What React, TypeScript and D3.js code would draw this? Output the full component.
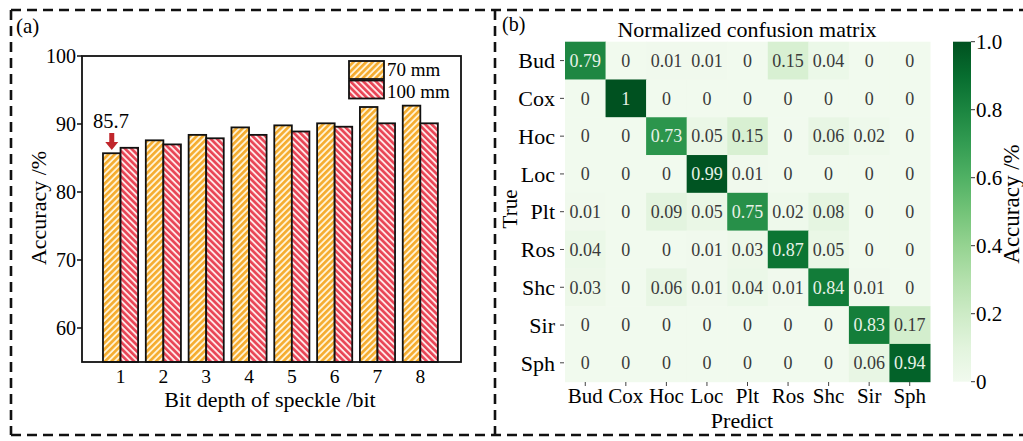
import React from "react";
import * as d3 from "d3";

// ---- data ----
const bitDepths = [1, 2, 3, 4, 5, 6, 7, 8];
const acc70 = [85.7, 87.6, 88.4, 89.5, 89.8, 90.1, 92.5, 92.7];
const acc100 = [86.5, 87.0, 87.9, 88.4, 88.9, 89.6, 90.1, 90.1];
const accTicks = [60, 70, 80, 90, 100];
const seriesNames = ["70 mm", "100 mm"];

const classes = ["Bud", "Cox", "Hoc", "Loc", "Plt", "Ros", "Shc", "Sir", "Sph"];
const confusion = [
  [0.79, 0, 0.01, 0.01, 0, 0.15, 0.04, 0, 0],
  [0, 1, 0, 0, 0, 0, 0, 0, 0],
  [0, 0, 0.73, 0.05, 0.15, 0, 0.06, 0.02, 0],
  [0, 0, 0, 0.99, 0.01, 0, 0, 0, 0],
  [0.01, 0, 0.09, 0.05, 0.75, 0.02, 0.08, 0, 0],
  [0.04, 0, 0, 0.01, 0.03, 0.87, 0.05, 0, 0],
  [0.03, 0, 0.06, 0.01, 0.04, 0.01, 0.84, 0.01, 0],
  [0, 0, 0, 0, 0, 0, 0, 0.83, 0.17],
  [0, 0, 0, 0, 0, 0, 0, 0.06, 0.94],
];
const cbarTicks = [0, 0.2, 0.4, 0.6, 0.8, 1.0];

const FONT = "'Liberation Serif', 'Times New Roman', serif";

export default function App() {
  // left panel scales
  const x = d3.scaleLinear().domain([0.1, 8.95]).range([82, 461]);
  const y = d3.scaleLinear().domain([55, 100]).range([362, 56]);
  const bw = x(0.41) - x(0);

  // right panel scales
  const cx = d3.scaleBand<string>().domain(classes).range([565, 930]);
  const cy = d3.scaleBand<string>().domain(classes).range([41.7, 381.7]);
  const color = d3.scaleSequential(d3.interpolateGreens).domain([0, 1]);
  const cb = d3.scaleLinear().domain([0, 1]).range([381.7, 41.7]);
  const cbStops = d3.range(0, 1.0001, 0.1);

  return (
    <div style={{ position: "absolute", left: 0, top: 0 }}>
      <svg width={1023} height={441} style={{ fontFamily: FONT, display: "block" }}>
        <defs>
          <pattern id="hatchO" width={4.5} height={4.5} patternUnits="userSpaceOnUse" patternTransform="rotate(45)">
            <rect width={4.5} height={4.5} fill="#fff3d6" />
            <rect width={2.6} height={4.5} fill="#f5ac2e" />
          </pattern>
          <pattern id="hatchR" width={4.5} height={4.5} patternUnits="userSpaceOnUse" patternTransform="rotate(-45)">
            <rect width={4.5} height={4.5} fill="#ffe6e6" />
            <rect width={2.6} height={4.5} fill="#e84455" />
          </pattern>
          <linearGradient id="cbar" x1="0" y1="1" x2="0" y2="0">
            {cbStops.map((t) => (
              <stop key={t} offset={`${t * 100}%`} stopColor={color(t * 0.92 + 0.04)} />
            ))}
          </linearGradient>
        </defs>

        {/* dashed frames */}
        <g stroke="#111" strokeWidth={2.6} strokeDasharray="10,6" fill="none">
          <line x1={11} y1={10} x2={1023} y2={10} />
          <line x1={11} y1={435} x2={1023} y2={435} />
          <line x1={11} y1={10} x2={11} y2={435} />
          <line x1={495} y1={10} x2={495} y2={435} />
        </g>

        {/* ---------- (a) bar chart ---------- */}
        <text x={16} y={33} fontSize={21}>(a)</text>
        {bitDepths.map((b, i) => (
          <g key={b} stroke="#111" strokeWidth={1.8}>
            <rect x={x(b) - bw} y={y(acc70[i])} width={bw} height={y(55) - y(acc70[i])} fill="url(#hatchO)" />
            <rect x={x(b)} y={y(acc100[i])} width={bw} height={y(55) - y(acc100[i])} fill="url(#hatchR)" />
          </g>
        ))}
        <rect x={82} y={56} width={379} height={306} fill="none" stroke="#111" strokeWidth={1.8} />
        {accTicks.map((t) => (
          <g key={t}>
            <line x1={77} x2={82} y1={y(t)} y2={y(t)} stroke="#111" strokeWidth={1.5} />
            <text x={76} y={y(t)} dy="0.35em" textAnchor="end" fontSize={20}>{t}</text>
          </g>
        ))}
        {bitDepths.map((b) => (
          <text key={b} x={x(b)} y={383} textAnchor="middle" fontSize={19.5}>{b}</text>
        ))}
        <text x={270} y={407} textAnchor="middle" fontSize={22}>Bit depth of speckle /bit</text>
        <text transform="translate(46,208) rotate(-90)" textAnchor="middle" fontSize={22}>Accuracy /%</text>

        {/* legend */}
        <g stroke="#111" strokeWidth={1.8}>
          <rect x={349} y={61} width={35} height={18} fill="url(#hatchO)" />
          <rect x={349} y={80.5} width={35} height={18} fill="url(#hatchR)" />
        </g>
        <text x={387} y={76} fontSize={19}>{seriesNames[0]}</text>
        <text x={387} y={97.5} fontSize={19}>{seriesNames[1]}</text>

        {/* annotation */}
        <text x={111} y={128} textAnchor="middle" fontSize={20.5}>{acc70[0]}</text>
        <path
          d={`M${x(1) - bw / 2 - 2.5},133 h5 v9 h4 l-6.5,8 l-6.5,-8 h4 z`}
          fill="#c0262c"
        />

        {/* ---------- (b) confusion matrix ---------- */}
        <text x={502} y={31} fontSize={20}>(b)</text>
        <text x={747} y={37} textAnchor="middle" fontSize={22}>Normalized confusion matrix</text>
        {confusion.map((row, r) =>
          row.map((v, c) => (
            <g key={`${r}-${c}`}>
              <rect x={cx(classes[c])!} y={cy(classes[r])!} width={cx.bandwidth() + 0.5} height={cy.bandwidth() + 0.5} fill={color(v * 0.92 + 0.04)} />
              <text
                x={cx(classes[c])! + cx.bandwidth() / 2}
                y={cy(classes[r])! + cy.bandwidth() / 2}
                dy="0.35em"
                textAnchor="middle"
                fontSize={18}
                fill={v > 0.5 ? "#e8f2e8" : "#3a3a3a"}
              >
                {v}
              </text>
            </g>
          ))
        )}
        {classes.map((c) => (
          <g key={c}>
            <line x1={560} x2={564} y1={cy(c)! + cy.bandwidth() / 2} y2={cy(c)! + cy.bandwidth() / 2} stroke="#444" strokeWidth={1} />
            <text x={555} y={cy(c)! + cy.bandwidth() / 2} dy="0.35em" textAnchor="end" fontSize={22}>{c}</text>
            <line x1={cx(c)! + cx.bandwidth() / 2} x2={cx(c)! + cx.bandwidth() / 2} y1={382} y2={386} stroke="#444" strokeWidth={1} />
            <text x={cx(c)! + cx.bandwidth() / 2} y={403} textAnchor="middle" fontSize={21}>{c}</text>
          </g>
        ))}
        <text x={742} y={428} textAnchor="middle" fontSize={22}>Predict</text>
        <text transform="translate(517,209) rotate(-90)" textAnchor="middle" fontSize={21}>True</text>

        {/* colorbar */}
        <rect x={953} y={41.7} width={18} height={340} fill="url(#cbar)" />
        {cbarTicks.map((t) => (
          <g key={t}>
            <line x1={971} x2={975} y1={cb(t)} y2={cb(t)} stroke="#333" strokeWidth={1} />
            <text x={976} y={cb(t)} dy="0.35em" fontSize={21}>{t === 1 ? "1.0" : t === 0 ? "0" : String(t)}</text>
          </g>
        ))}
        <text transform="translate(1019,204) rotate(-90)" textAnchor="middle" fontSize={23}>Accuracy /%</text>
      </svg>
    </div>
  );
}
